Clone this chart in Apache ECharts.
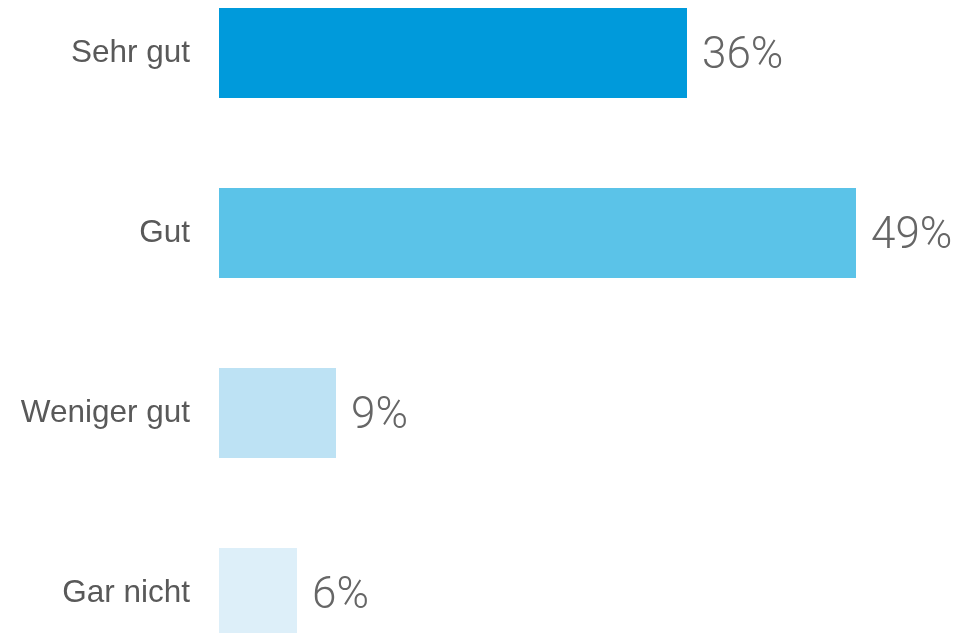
<!DOCTYPE html>
<html>
<head>
<meta charset="utf-8">
<script src="https://cdn.jsdelivr.net/npm/echarts@6/dist/echarts.min.js"></script>
<style>html,body{margin:0;padding:0;background:#fff;overflow:hidden;width:962px;height:633px;position:relative;}#c{position:absolute;left:0;top:-37px;width:962px;height:720px;}</style>
</head>
<body>
<div id="c"></div>
<script>
var categories = ['Sehr gut', 'Gut', 'Weniger gut', 'Gar nicht'];
var values = [36, 49, 9, 6];
var colors = ['#009ADB', '#5BC3E8', '#BDE2F4', '#DDEFF9'];

var chart = echarts.init(document.getElementById('c'));
chart.setOption({
  animation: false,
  grid: { left: 219, top: 0, width: 650, height: 720, containLabel: false },
  xAxis: { type: 'value', min: 0, max: 50, show: false },
  yAxis: {
    type: 'category', data: categories, inverse: true,
    axisLine: { show: false }, axisTick: { show: false }, splitLine: { show: false },
    axisLabel: { color: '#595959', fontSize: 31.5, fontFamily: 'Liberation Sans, Arial, sans-serif', margin: 29 }
  },
  series: [{
    type: 'bar',
    data: values.map(function (v, i) { return { value: v, itemStyle: { color: colors[i] } }; }),
    barWidth: 90,
    label: {
      show: true, position: 'right', distance: 15, offset: [0, 4],
      formatter: '{c}%', color: '#666666', fontSize: 44, fontWeight: 300,
      fontFamily: 'Roboto, Lato, sans-serif'
    }
  }]
});
</script>
</body>
</html>
